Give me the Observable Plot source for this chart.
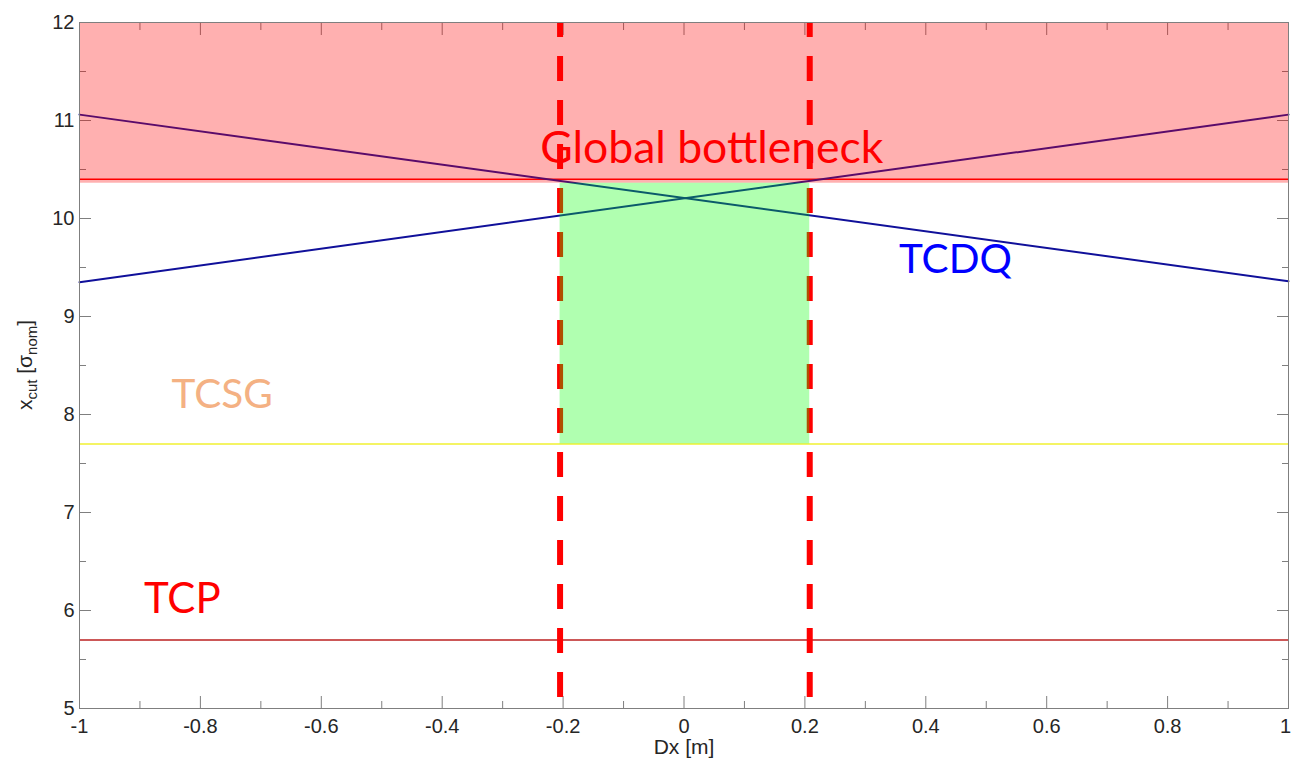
<!DOCTYPE html>
<html>
<head>
<meta charset="utf-8">
<script src="https://cdn.jsdelivr.net/npm/d3@7"></script>
<script src="https://cdn.jsdelivr.net/npm/@observablehq/plot@0.6"></script>
<style>
  html, body { margin: 0; padding: 0; background: #ffffff; }
  #chart { width: 1291px; height: 761px; overflow: hidden; }
</style>
</head>
<body>
<div id="chart"></div>
<script>
// ---------------- data ----------------
const xMajorTicks = [-1, -0.8, -0.6, -0.4, -0.2, 0, 0.2, 0.4, 0.6, 0.8, 1];
const xMinorTicks = [-0.9, -0.7, -0.5, -0.3, -0.1, 0.1, 0.3, 0.5, 0.7, 0.9];
const yMajorTicks = [5, 6, 7, 8, 9, 10, 11, 12];
const yMinorTicks = [5.5, 6.5, 7.5, 8.5, 9.5, 10.5, 11.5];

// TCDQ cut as function of Dx (two crossing lines)
const tcdqFalling = [{dx: -1, xcut: 11.06}, {dx: 1, xcut: 9.36}];
const tcdqRising  = [{dx: -1, xcut: 9.35},  {dx: 1, xcut: 11.06}];

// horizontal levels
const globalLevel = [10.4];
const tcsgLevel = [7.7];
const tcpLevel = [5.7];

// shaded regions
const forbiddenBand = [{x1: -1, x2: 1, y1: 10.36, y2: 12}];
const allowedWindow = [{x1: -0.205, x2: 0.208, y1: 7.7, y2: 10.36}];

// bottleneck limits (dashed)
const bottleneckDx = [-0.205, 0.208];

// annotations
const annotations = [
  {key: "global", text: "Global bottleneck", dx: 0.046, xcut: 10.57},
  {key: "tcdq", text: "TCDQ", dx: 0.449, xcut: 9.44},
  {key: "tcsg", text: "TCSG", dx: -0.764, xcut: 8.07},
  {key: "tcp", text: "TCP", dx: -0.83, xcut: 5.97}
];

// ---------------- styles ----------------
const annotationColors = {global: "#ff0000", tcdq: "#0000ff", tcsg: "#f4b183", tcp: "#ff0000"};
const annotationSizes = {global: 44.5, tcdq: 40.5, tcsg: 40.5, tcp: 42};
const axisGray = "#7f7f7f";
const textDark = "#262626";
const tickFont = "Liberation Sans, Arial, sans-serif";

const innerXLabels = xMajorTicks.filter(d => d !== 1);
const edgeXLabels = xMajorTicks.filter(d => d === 1);

const plot = Plot.plot({
  width: 1291,
  height: 761,
  marginLeft: 79,
  marginRight: 3,
  marginTop: 22,
  marginBottom: 53,
  style: {background: "#ffffff", fontFamily: tickFont, fontSize: "20px", color: textDark},
  x: {domain: [-1, 1]},
  y: {domain: [5, 12]},
  marks: [
    // tick marks (inward, on all four sides)
    Plot.axisX(xMajorTicks, {anchor: "bottom", tickSize: -12, tickFormat: () => "", label: null, stroke: axisGray}),
    Plot.axisX(xMinorTicks, {anchor: "bottom", tickSize: -7, tickFormat: () => "", label: null, stroke: axisGray}),
    Plot.axisX(xMajorTicks, {anchor: "top", tickSize: -12, tickFormat: () => "", label: null, stroke: axisGray}),
    Plot.axisX(xMinorTicks, {anchor: "top", tickSize: -7, tickFormat: () => "", label: null, stroke: axisGray}),
    Plot.axisY(yMajorTicks, {anchor: "left", tickSize: -12, tickFormat: () => "", label: null, stroke: axisGray}),
    Plot.axisY(yMinorTicks, {anchor: "left", tickSize: -7, tickFormat: () => "", label: null, stroke: axisGray}),
    Plot.axisY(yMajorTicks, {anchor: "right", tickSize: -12, tickFormat: () => "", label: null, stroke: axisGray}),
    Plot.axisY(yMinorTicks, {anchor: "right", tickSize: -7, tickFormat: () => "", label: null, stroke: axisGray}),
    // tick labels
    Plot.axisX(innerXLabels, {anchor: "bottom", tickSize: 0, tickPadding: 10, tickFormat: d => String(d), label: null, fill: textDark, fontSize: 20}),
    Plot.axisX(edgeXLabels, {anchor: "bottom", tickSize: 0, tickPadding: 10, tickFormat: d => String(d), label: null, fill: textDark, fontSize: 20, dx: -3}),
    Plot.axisY(yMajorTicks, {anchor: "left", tickSize: 0, tickPadding: 5, tickFormat: d => String(d), label: null, fill: textDark, fontSize: 20}),
    // lines
    Plot.ruleY(tcpLevel, {stroke: "#bb2020", strokeWidth: 1.5}),
    Plot.ruleY(tcsgLevel, {stroke: "#f0f030", strokeWidth: 1.5}),
    Plot.ruleY(globalLevel, {stroke: "#ff0000", strokeWidth: 1.5}),
    Plot.line(tcdqFalling, {x: "dx", y: "xcut", stroke: "#10109a", strokeWidth: 2}),
    Plot.line(tcdqRising, {x: "dx", y: "xcut", stroke: "#10109a", strokeWidth: 2}),
    Plot.ruleX(bottleneckDx, {y1: 12, y2: 5, stroke: "#ff0000", strokeWidth: 6, strokeDasharray: "25,19", strokeDashoffset: 10}),
    // shaded regions (semi-transparent, on top of lines)
    Plot.rect(forbiddenBand, {x1: "x1", x2: "x2", y1: "y1", y2: "y2", fill: "#ff0000", fillOpacity: 0.31}),
    Plot.rect(allowedWindow, {x1: "x1", x2: "x2", y1: "y1", y2: "y2", fill: "#00ff00", fillOpacity: 0.31}),
    Plot.frame({stroke: axisGray}),
    // annotations
    ...annotations.map(a => Plot.text([a], {
      x: "dx", y: "xcut", text: "text",
      fill: annotationColors[a.key],
      fontFamily: "Lato, sans-serif", fontSize: annotationSizes[a.key],
      textAnchor: "middle", lineAnchor: "bottom"
    })),
    // x axis title
    Plot.text(["Dx [m]"], {frameAnchor: "bottom", dy: 39, text: d => d, fill: textDark, fontSize: 21, fontFamily: tickFont, lineAnchor: "middle"})
  ]
});

document.getElementById("chart").appendChild(plot);

// y axis title with subscripts
const svg = d3.select(plot.tagName.toLowerCase() === "svg" ? plot : plot.querySelector("svg"));
const yl = svg.append("text")
  .attr("transform", "translate(32,365) rotate(-90)")
  .attr("text-anchor", "middle")
  .attr("font-family", tickFont)
  .attr("font-size", 21)
  .attr("fill", textDark);
yl.append("tspan").text("x");
yl.append("tspan").attr("font-size", 15).attr("dy", 5).text("cut");
yl.append("tspan").attr("dy", -5).text(" [σ");
yl.append("tspan").attr("font-size", 15).attr("dy", 5).text("nom");
yl.append("tspan").attr("dy", -5).text("]");
</script>
</body>
</html>
